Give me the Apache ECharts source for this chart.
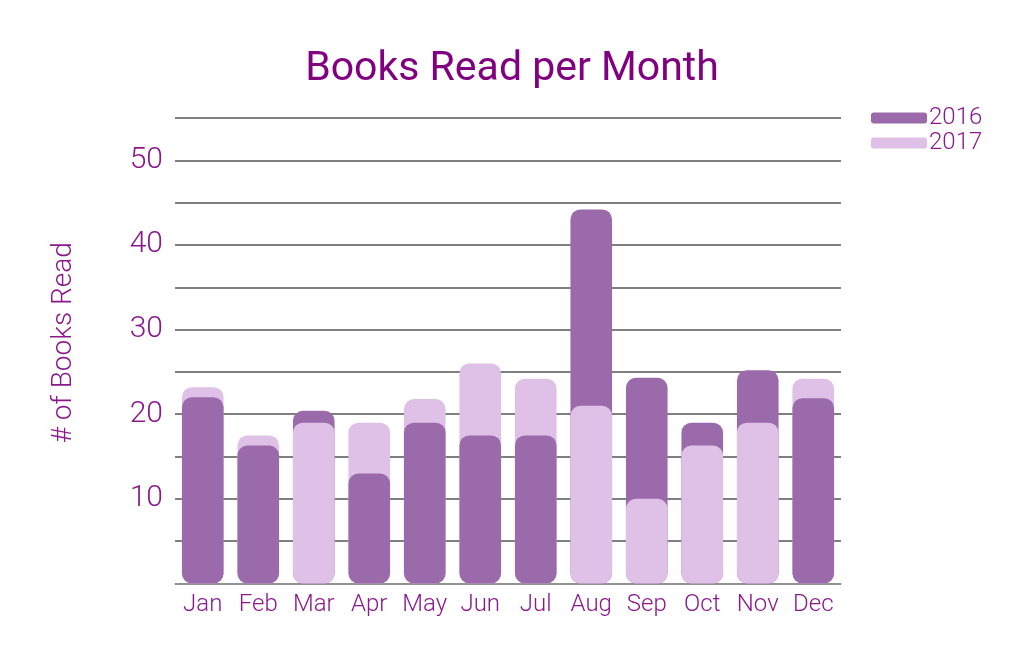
<!DOCTYPE html>
<html>
<head>
  <meta charset="UTF-8" />
  <title>Books Read per Month</title>
  <script src="https://cdn.jsdelivr.net/npm/echarts@6/dist/echarts.min.js"></script>
  <style>
    html, body { margin: 0; padding: 0; background: #fff; }
    #myChart { width: 1024px; height: 663px; }
  </style>
</head>
<body>
  <div id="myChart"></div>
  <script>
    // data
    const months = ['Jan', 'Feb', 'Mar', 'Apr', 'May', 'Jun', 'Jul', 'Aug', 'Sep', 'Oct', 'Nov', 'Dec'];
    const books2016 = [22, 16.3, 20.4, 13, 19, 17.5, 17.5, 44.2, 24.3, 19, 25.2, 21.9];
    const books2017 = [23.2, 17.5, 19, 19, 21.8, 26, 24.2, 21, 10, 16.3, 19, 24.2];

    const c2016 = '#9b6aab';
    const c2017 = '#dfc0e6';
    const textColor = '#8a1a8c';
    const font = 'Roboto';

    let chart = echarts.init(document.getElementById('myChart'));

    // the taller bar of each month goes behind, the shorter one in front
    const backData = months.map((m, i) => {
      const a = books2016[i], b = books2017[i];
      return { value: Math.max(a, b), itemStyle: { color: a >= b ? c2016 : c2017 } };
    });
    const frontData = months.map((m, i) => {
      const a = books2016[i], b = books2017[i];
      return { value: Math.min(a, b), itemStyle: { color: a < b ? c2016 : c2017 } };
    });

    const option = {
      animation: false,
      title: {
        text: 'Books Read per Month',
        left: 'center',
        top: 44,
        textStyle: { color: '#800080', fontFamily: font, fontWeight: 400, fontSize: 41 }
      },
      legend: {
        data: ['2016', '2017'],
        orient: 'vertical',
        left: 866,
        top: 101,
        itemWidth: 56,
        itemHeight: 11,
        itemGap: 1,
        icon: 'roundRect',
        textStyle: { color: textColor, fontFamily: font, fontWeight: 300, fontSize: 24, lineHeight: 24, padding: [0, 0, 0, -3] }
      },
      grid: { left: 175, right: 183, top: 118, bottom: 79.5 },
      xAxis: {
        type: 'category',
        data: months,
        axisTick: { show: false },
        axisLine: { lineStyle: { color: '#999', width: 1.5 } },
        axisLabel: { color: textColor, fontFamily: font, fontWeight: 300, fontSize: 24, margin: 9, interval: 0 }
      },
      yAxis: {
        type: 'value',
        min: 0,
        max: 55,
        interval: 5,
        name: '# of Books Read',
        nameLocation: 'middle',
        nameRotate: 90,
        nameGap: 97,
        nameTextStyle: { color: textColor, fontFamily: font, fontWeight: 300, fontSize: 28, padding: [0, 0, 0, 16] },
        axisLine: { show: false },
        axisTick: { show: false },
        splitLine: { lineStyle: { color: '#555', width: 1.5 } },
        axisLabel: {
          color: textColor, fontFamily: font, fontWeight: 300, fontSize: 30, margin: 12,
          formatter: v => (v > 0 && v % 10 === 0) ? String(v) : ''
        }
      },
      series: [
        { name: '2016', type: 'bar', data: [], itemStyle: { color: c2016 } },
        { name: '2017', type: 'bar', data: [], itemStyle: { color: c2017 } },
        {
          name: 'back', type: 'bar', data: backData,
          barWidth: '75%', barGap: '-100%',
          itemStyle: { borderRadius: 10 }
        },
        {
          name: 'front', type: 'bar', data: frontData,
          barWidth: '75%', barGap: '-100%',
          itemStyle: { borderRadius: 10 }
        }
      ]
    };

    chart.setOption(option);
  </script>
</body>
</html>
